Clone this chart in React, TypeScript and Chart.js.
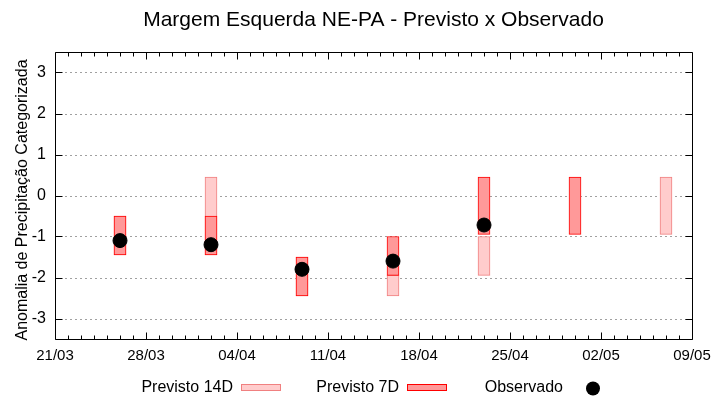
import React, { useEffect, useRef } from "react";
import { Chart, registerables } from "chart.js";

Chart.register(...registerables);

const YEAR = 2019;
const startLabel = "21/03";
const tickLabels = ["21/03", "28/03", "04/04", "11/04", "18/04", "25/04", "02/05", "09/05"];
const forecastDates = ["26/03", "02/04", "09/04", "16/04", "23/04", "30/04", "07/05"];
const prev14Low: (number | null)[] = [-1.45, -1.45, -2.45, -2.45, -1.95, null, -0.95];
const prev14High: (number | null)[] = [-0.5, 0.45, -1.5, -1.95, -1.0, null, 0.45];
const prev7Low: (number | null)[] = [-1.45, -1.45, -2.45, -1.95, -0.95, -0.95, null];
const prev7High: (number | null)[] = [-0.5, -0.5, -1.5, -1.0, 0.45, 0.45, null];
const observed: (number | null)[] = [-1.1, -1.2, -1.8, -1.6, -0.72, null, null];
const yTicks = [-3, -2, -1, 0, 1, 2, 3];

const TITLE = "Margem Esquerda NE-PA - Previsto x Observado";
const Y_TITLE = "Anomalia de Precipitação Categorizada";
const FONT = "'Liberation Sans', Arial, sans-serif";

function dayIndex(s: string): number {
  const [d, m] = s.split("/").map(Number);
  const [d0, m0] = startLabel.split("/").map(Number);
  return Math.round((Date.UTC(YEAR, m - 1, d) - Date.UTC(YEAR, m0 - 1, d0)) / 86400000);
}

function floating(lo: (number | null)[], hi: (number | null)[]) {
  const out: { x: number; y: [number, number] }[] = [];
  forecastDates.forEach((d, i) => {
    const a = lo[i];
    const b = hi[i];
    if (a !== null && b !== null) out.push({ x: dayIndex(d), y: [a, b] });
  });
  return out;
}

function points(vals: (number | null)[]) {
  const out: { x: number; y: number }[] = [];
  forecastDates.forEach((d, i) => {
    const v = vals[i];
    if (v !== null) out.push({ x: dayIndex(d), y: v });
  });
  return out;
}

const gnuplotLook = {
  id: "gnuplotLook",
  beforeDatasetsDraw(chart: any) {
    const { ctx, chartArea: a, scales } = chart;
    const y = scales.y;
    ctx.save();
    ctx.strokeStyle = "#a0a0a0";
    ctx.lineWidth = 1;
    ctx.setLineDash([2, 3]);
    for (const t of yTicks) {
      const py = Math.round(y.getPixelForValue(t)) + 0.5;
      ctx.beginPath();
      ctx.moveTo(a.left, py);
      ctx.lineTo(a.right, py);
      ctx.stroke();
    }
    ctx.restore();
  },
  afterDatasetsDraw(chart: any) {
    const { ctx, chartArea: a, scales } = chart;
    const x = scales.x;
    const y = scales.y;
    ctx.save();
    ctx.strokeStyle = "#000";
    ctx.lineWidth = 1;
    ctx.setLineDash([]);
    const L = Math.round(a.left) + 0.5;
    const R = Math.round(a.right) + 0.5;
    const T = Math.round(a.top) + 0.5;
    const B = Math.round(a.bottom) + 0.5;
    ctx.beginPath();
    ctx.rect(L, T, R - L, B - T);
    ctx.stroke();
    const last = dayIndex(tickLabels[tickLabels.length - 1]);
    const majors = new Set(tickLabels.map(dayIndex));
    ctx.beginPath();
    for (let d = 0; d <= last; d++) {
      const px = Math.round(x.getPixelForValue(d)) + 0.5;
      const len = majors.has(d) ? 7 : 4;
      ctx.moveTo(px, B);
      ctx.lineTo(px, B - len);
      ctx.moveTo(px, T);
      ctx.lineTo(px, T + len);
    }
    for (const t of yTicks) {
      const py = Math.round(y.getPixelForValue(t)) + 0.5;
      ctx.moveTo(L, py);
      ctx.lineTo(L + 7, py);
      ctx.moveTo(R, py);
      ctx.lineTo(R - 7, py);
    }
    ctx.stroke();
    ctx.restore();
  },
  afterDraw(chart: any) {
    const { ctx, chartArea: a } = chart;
    ctx.save();
    ctx.fillStyle = "#000";
    ctx.font = `21px ${FONT}`;
    ctx.textAlign = "center";
    ctx.textBaseline = "alphabetic";
    ctx.fillText(TITLE, (a.left + a.right) / 2, 26);
    ctx.save();
    ctx.translate(27, 200);
    ctx.rotate(-Math.PI / 2);
    ctx.font = `16px ${FONT}`;
    ctx.fillText(Y_TITLE, 0, 0);
    ctx.restore();
    const ds = chart.data.datasets;
    const textRight = [233, 399, 563];
    ctx.font = `16px ${FONT}`;
    ctx.textAlign = "right";
    ds.forEach((d: any, i: number) => {
      const tr = textRight[i];
      ctx.fillStyle = "#000";
      ctx.fillText(d.label, tr, 392);
      if (d.type === "scatter") {
        ctx.beginPath();
        ctx.arc(tr + 30, 388.5, 7, 0, Math.PI * 2);
        ctx.fillStyle = d.backgroundColor;
        ctx.fill();
      } else {
        ctx.fillStyle = d.backgroundColor;
        ctx.fillRect(tr + 8, 384, 40, 7);
        ctx.strokeStyle = d.borderColor;
        ctx.lineWidth = 1;
        ctx.strokeRect(tr + 8.5, 384.5, 39, 6);
      }
    });
    ctx.restore();
  },
};

export default function App() {
  const ref = useRef<HTMLCanvasElement | null>(null);
  useEffect(() => {
    if (!ref.current) return;
    const chart = new Chart(ref.current, {
      type: "bar",
      data: {
        datasets: [
          {
            type: "bar",
            label: "Previsto 14D",
            data: floating(prev14Low, prev14High) as any,
            backgroundColor: "#ffcccc",
            borderColor: "#f08080",
            borderWidth: 1,
            borderSkipped: false,
            barThickness: 12,
            grouped: false,
            order: 3,
          } as any,
          {
            type: "bar",
            label: "Previsto 7D",
            data: floating(prev7Low, prev7High) as any,
            backgroundColor: "#ff9999",
            borderColor: "#ff0000",
            borderWidth: 1,
            borderSkipped: false,
            barThickness: 12,
            grouped: false,
            order: 2,
          } as any,
          {
            type: "scatter",
            label: "Observado",
            data: points(observed) as any,
            backgroundColor: "#000000",
            borderColor: "#000000",
            borderWidth: 1,
            pointRadius: 7,
            showLine: false,
            order: 1,
          } as any,
        ],
      },
      options: {
        animation: false,
        responsive: false,
        devicePixelRatio: 1,
        layout: { padding: { top: 52, right: 28, left: 0, bottom: 0 } },
        plugins: {
          legend: { display: false },
          title: { display: false },
          tooltip: { enabled: false },
        },
        scales: {
          x: {
            type: "linear",
            offset: false,
            min: 0,
            max: dayIndex(tickLabels[tickLabels.length - 1]),
            grid: { display: false, drawTicks: false },
            border: { display: false },
            afterBuildTicks: (s: any) => {
              s.ticks = tickLabels.map((l) => ({ value: dayIndex(l) }));
            },
            afterFit: (s: any) => {
              s.height = 61;
            },
            ticks: {
              autoSkip: false,
              maxRotation: 0,
              padding: 8,
              color: "#000",
              font: { family: FONT, size: 15 },
              callback: (v: any) => {
                const l = tickLabels.find((t) => dayIndex(t) === Number(v));
                return l ?? "";
              },
            },
          },
          y: {
            type: "linear",
            min: -3.5,
            max: 3.5,
            grid: { display: false, drawTicks: false },
            border: { display: false },
            afterBuildTicks: (s: any) => {
              s.ticks = yTicks.map((v) => ({ value: v }));
            },
            afterFit: (s: any) => {
              s.width = 55;
            },
            ticks: {
              padding: 9,
              color: "#000",
              font: { family: FONT, size: 16 },
            },
          },
        },
      },
      plugins: [gnuplotLook],
    });
    return () => chart.destroy();
  }, []);
  return (
    <div style={{ position: "fixed", left: 0, top: 0, width: 720, height: 400, background: "#fff" }}>
      <canvas ref={ref} width={720} height={400} style={{ width: 720, height: 400 }} />
    </div>
  );
}
